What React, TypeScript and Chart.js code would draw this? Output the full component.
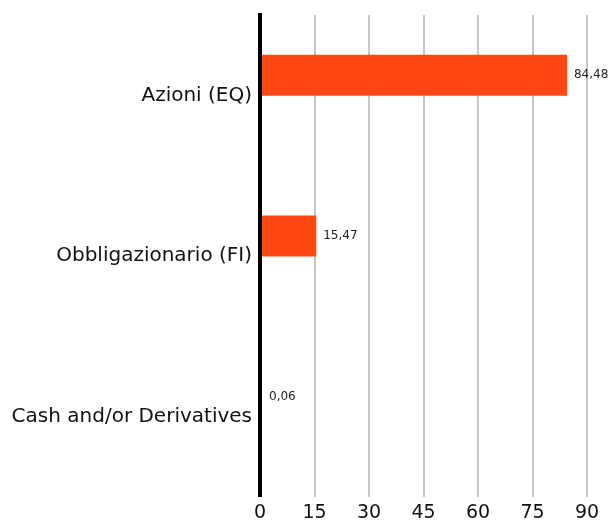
import React, { useEffect, useRef } from "react";
import { Chart, registerables } from "chart.js";

Chart.register(...registerables);

const categories = ["Azioni (EQ)", "Obbligazionario (FI)", "Cash and/or Derivatives"];
const values = [84.48, 15.47, 0.06];
const valueLabels = ["84,48", "15,47", "0,06"];
const xTicks = [0, 15, 30, 45, 60, 75, 90];

const FONT = "'DejaVu Sans', sans-serif";

const labelPlugin = {
  id: "barLabels",
  afterDatasetsDraw(chart: any) {
    const ctx = chart.ctx;
    const area = chart.chartArea;
    const x0 = chart.scales.x.getPixelForValue(0);
    ctx.save();
    ctx.strokeStyle = "#000";
    ctx.lineWidth = 4;
    ctx.beginPath();
    ctx.moveTo(x0, area.top - 2);
    ctx.lineTo(x0, area.bottom);
    ctx.stroke();

    const meta = chart.getDatasetMeta(0);
    ctx.font = `12px ${FONT}`;
    ctx.fillStyle = "#222";
    ctx.textAlign = "left";
    ctx.textBaseline = "middle";
    meta.data.forEach((bar: any, i: number) => {
      ctx.fillText(valueLabels[i], Math.max(bar.x, x0 + 2) + 7, bar.y);
    });
    ctx.restore();
  },
};

export default function App() {
  const ref = useRef<HTMLCanvasElement>(null);
  useEffect(() => {
    if (!ref.current) return;
    const chart = new Chart(ref.current, {
      type: "bar",
      data: {
        labels: categories,
        datasets: [
          {
            data: values,
            backgroundColor: "#FF4713",
            barPercentage: 1.02,
            categoryPercentage: 0.5,
          },
          {
            data: [null, null, null],
            backgroundColor: "rgba(0,0,0,0)",
            barPercentage: 1.02,
            categoryPercentage: 0.5,
          },
        ],
      },
      options: {
        indexAxis: "y",
        animation: false,
        responsive: true,
        maintainAspectRatio: false,
        layout: { padding: { top: 15, right: 25, left: 0, bottom: 2 } },
        plugins: { legend: { display: false }, tooltip: { enabled: false } },
        scales: {
          x: {
            min: 0,
            max: 90,
            afterBuildTicks: (axis: any) => {
              axis.ticks = xTicks.map((v) => ({ value: v }));
            },
            afterFit: (axis: any) => {
              axis.height = 24;
            },
            grid: { color: "#c8c8c8", lineWidth: 2, drawTicks: false },
            border: { display: false },
            ticks: { color: "#111", font: { size: 19, family: FONT }, padding: 5 },
          },
          y: {
            afterFit: (axis: any) => {
              axis.width = 260;
              axis.paddingTop = 0;
              axis.paddingBottom = 0;
            },
            grid: { display: false, drawTicks: false },
            border: { display: false },
            ticks: { color: "#111", font: { size: 20, family: FONT }, padding: 8 },
          },
        },
      },
      plugins: [labelPlugin],
    });
    return () => chart.destroy();
  }, []);
  return (
    <div style={{ position: "fixed", left: 0, top: 0, width: 612, height: 523 }}>
      <canvas ref={ref} />
    </div>
  );
}
